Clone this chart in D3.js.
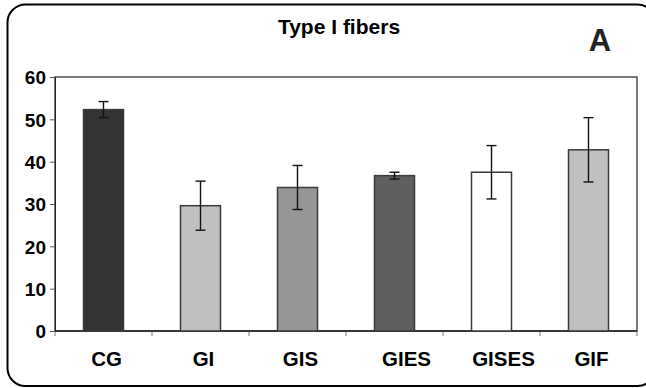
<!DOCTYPE html>
<html><head><meta charset="utf-8">
<script src="https://cdn.jsdelivr.net/npm/d3@7"></script>
<style>html,body{margin:0;padding:0;background:#fff;}svg{display:block;}</style>
</head><body>
<script>
const categories = ["CG", "GI", "GIS", "GIES", "GISES", "GIF"];
const means = [52.3, 29.6, 33.9, 36.7, 37.5, 42.8];
const errors = [1.9, 5.8, 5.2, 0.8, 6.3, 7.6];
const yTicks = [0, 10, 20, 30, 40, 50, 60];
const title = "Type I fibers";
const panelLabel = "A";

const fills = ["#333333", "#c0c0c0", "#969696", "#5f5f5f", "#ffffff", "#c0c0c0"];
const labelShift = [3, 3, 3, 12, 12, 3];

const W = 646, H = 388;
const m = {left: 55, top: 77, right: 637, bottom: 331};
const svg = d3.select("body").append("svg").attr("width", W).attr("height", H);

svg.append("rect").attr("x", 7.5).attr("y", 4.5).attr("width", 648).attr("height", 381.5)
  .attr("rx", 18).attr("fill", "none").attr("stroke", "#000").attr("stroke-width", 2);

const x = d3.scaleBand().domain(categories).range([m.left, m.right]).paddingInner(0).paddingOuter(0);
const y = d3.scaleLinear().domain([0, 60]).range([m.bottom, m.top]);
const bw = 40;

// plot frame
svg.append("rect").attr("x", m.left).attr("y", m.top).attr("width", m.right - m.left)
  .attr("height", m.bottom - m.top).attr("fill", "none").attr("stroke", "#222").attr("stroke-width", 1.2);

// y axis
const yAxis = svg.append("g").attr("transform", `translate(${m.left},0)`)
  .call(d3.axisLeft(y).tickValues(yTicks).tickSize(5).tickPadding(4).tickFormat(d3.format("d")));
yAxis.select(".domain").attr("stroke", "#222");
yAxis.selectAll("line").attr("stroke", "#555");
yAxis.selectAll("text").attr("font-family", "Liberation Sans, Arial, sans-serif")
  .attr("font-weight", "bold").attr("font-size", 19).attr("fill", "#000").attr("dy", "0.36em");

// x axis ticks at category boundaries
const bounds = categories.map(c => x(c)).concat([x(categories[categories.length - 1]) + x.bandwidth()]);
svg.append("g").selectAll("line").data(bounds).join("line")
  .attr("x1", d => d).attr("x2", d => d).attr("y1", m.bottom).attr("y2", m.bottom + 5)
  .attr("stroke", "#777").attr("stroke-width", 1);
svg.append("line").attr("x1", m.left).attr("x2", m.right).attr("y1", m.bottom).attr("y2", m.bottom)
  .attr("stroke", "#222").attr("stroke-width", 1.4);

svg.append("g").selectAll("text").data(categories).join("text")
  .attr("x", (d, i) => x(d) + x.bandwidth() / 2 + labelShift[i]).attr("y", 366)
  .attr("text-anchor", "middle").attr("font-family", "Liberation Sans, Arial, sans-serif")
  .attr("font-weight", "bold").attr("font-size", 20.5).attr("fill", "#000").text(d => d);

// bars
svg.append("g").selectAll("rect").data(categories).join("rect")
  .attr("x", d => x(d) + x.bandwidth() / 2 - bw / 2)
  .attr("y", (d, i) => y(means[i]))
  .attr("width", bw)
  .attr("height", (d, i) => y(0) - y(means[i]))
  .attr("fill", (d, i) => fills[i])
  .attr("stroke", "#3a3a3a").attr("stroke-width", 1.5);

// error bars
const eg = svg.append("g").attr("stroke", "#111").attr("stroke-width", 1.4);
categories.forEach((c, i) => {
  const cx = x(c) + x.bandwidth() / 2;
  const y1 = y(means[i] + errors[i]), y2 = y(means[i] - errors[i]);
  eg.append("line").attr("x1", cx).attr("x2", cx).attr("y1", y1).attr("y2", y2);
  eg.append("line").attr("x1", cx - 5).attr("x2", cx + 5).attr("y1", y1).attr("y2", y1);
  eg.append("line").attr("x1", cx - 5).attr("x2", cx + 5).attr("y1", y2).attr("y2", y2);
});

svg.append("text").attr("x", 339).attr("y", 34).attr("text-anchor", "middle")
  .attr("font-family", "Liberation Sans, Arial, sans-serif").attr("font-weight", "bold")
  .attr("font-size", 21).attr("fill", "#000").text(title);
svg.append("text").attr("x", 600).attr("y", 51).attr("text-anchor", "middle")
  .attr("font-family", "Liberation Sans, Arial, sans-serif").attr("font-weight", "bold")
  .attr("font-size", 31).attr("fill", "#222").text(panelLabel);
</script>
</body></html>
